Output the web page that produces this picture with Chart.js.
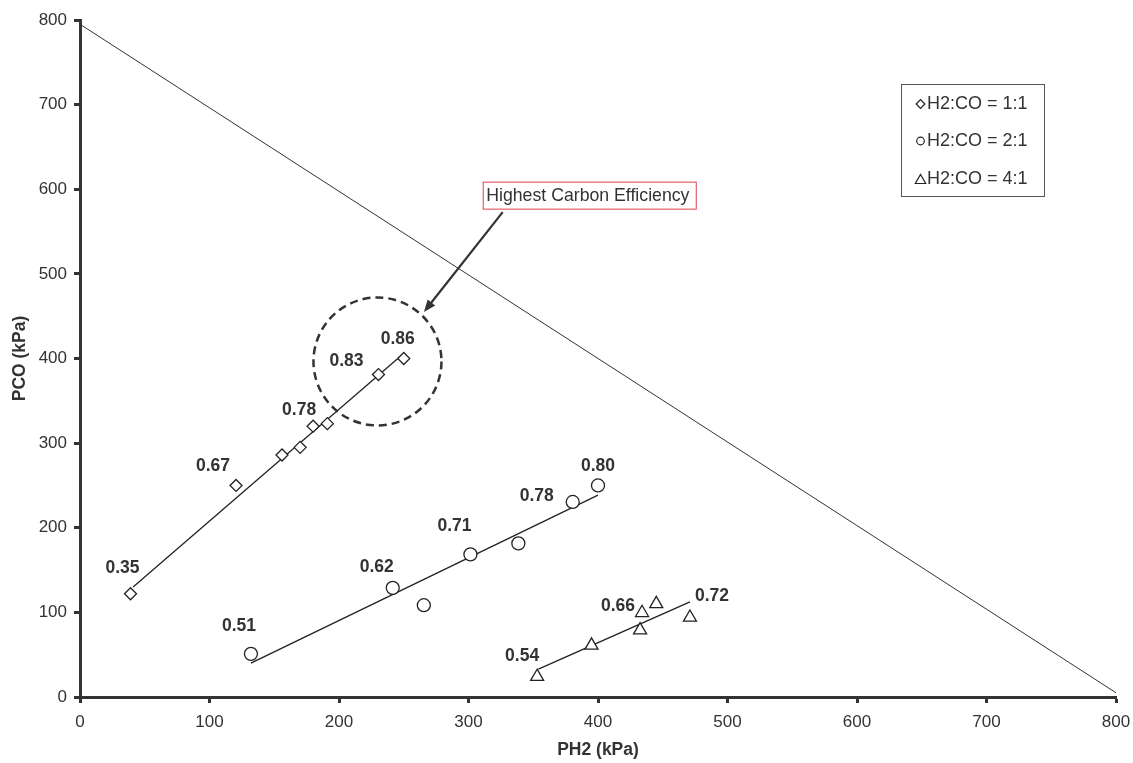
<!DOCTYPE html>
<html>
<head>
<meta charset="utf-8">
<script src="https://cdn.jsdelivr.net/npm/chart.js@4.4.0/dist/chart.umd.min.js"></script>
<style>
  html, body { margin: 0; padding: 0; background: #fff; }
  #wrap { width: 1133px; height: 763px; }
</style>
</head>
<body>
<div id="wrap"><canvas id="chart" width="1133" height="763"></canvas></div>
<script>
// H2:CO = 1:1 (diamonds)
const ratio11X = [39, 120.5, 156, 170, 180, 191, 230.5, 250];
const ratio11Y = [122, 250, 286, 295, 320, 323, 381, 400];
const ratio11Text = ['0.35', '0.67', null, null, '0.78', null, '0.83', '0.86'];

// H2:CO = 2:1 (circles)
const ratio21X = [132, 241.5, 265.5, 301.5, 338.5, 380.5, 400];
const ratio21Y = [51, 129, 108.5, 168.5, 181.5, 230.5, 250];
const ratio21Text = ['0.51', '0.62', null, '0.71', null, '0.78', '0.80'];

// H2:CO = 4:1 (triangles)
const ratio41X = [353, 395, 432.5, 434, 445, 471];
const ratio41Y = [24, 61, 79, 99.5, 110, 94];
const ratio41Text = ['0.54', null, null, '0.66', null, '0.72'];

// trend lines (end points)
const trend11X = [41, 247];
const trend11Y = [130, 402];
const trend21X = [132, 400];
const trend21Y = [40, 238.5];
const trend41X = [354, 471];
const trend41Y = [33, 112.5];

// total pressure boundary
const boundX = [0, 800];
const boundY = [795, 5];

const xTicks = [0, 100, 200, 300, 400, 500, 600, 700, 800];
const yTicks = [0, 100, 200, 300, 400, 500, 600, 700, 800];

const FONT = "'Liberation Sans', Arial, sans-serif";
const TEXT = '#333';
const AXIS = '#333';
const MARK = '#222';

// label offsets in px from the point, same order as the points
const offsets11 = [[-8, -26], [-23, -19], null, null, [-14, -16], null, [-32, -13], [-6, -19]];
const offsets21 = [[-12, -28], [-16, -21], null, [-16, -28], null, [-36, -6], [0, -19]];
const offsets41 = [[-15, -21], null, null, [-24, -7], null, [22, -21]];

function toPoints(xs, ys) {
    return xs.map((x, i) => ({ x: x, y: ys[i] }));
}

const markerStyle = {
    showLine: false,
    pointBackgroundColor: '#fff',
    pointBorderColor: MARK,
    pointBorderWidth: 1.3,
    order: 0
};

const lineStyle = {
    showLine: true,
    pointRadius: 0,
    borderColor: MARK,
    borderWidth: 1.3,
    fill: false,
    order: 1
};

// data labels next to the markers
const pointLabels = {
    id: 'pointLabels',
    afterDatasetsDraw(chart) {
        const ctx = chart.ctx;
        ctx.save();
        ctx.font = 'bold 17.5px ' + FONT;
        ctx.fillStyle = TEXT;
        ctx.textAlign = 'center';
        ctx.textBaseline = 'middle';
        chart.data.datasets.forEach((ds, i) => {
            if (!ds.pointTexts) return;
            const meta = chart.getDatasetMeta(i);
            meta.data.forEach((pt, j) => {
                const t = ds.pointTexts[j];
                if (!t) return;
                const off = ds.textOffsets[j];
                ctx.fillText(t, pt.x + off[0], pt.y + off[1]);
            });
        });
        ctx.restore();
    }
};

// dashed circle, callout box and arrow
const callout = {
    id: 'callout',
    afterDatasetsDraw(chart) {
        const ctx = chart.ctx;
        const xs = chart.scales.x, ys = chart.scales.y;
        ctx.save();

        // dashed circle round the best points
        ctx.beginPath();
        ctx.setLineDash([8, 5]);
        ctx.lineWidth = 2.5;
        ctx.strokeStyle = AXIS;
        ctx.arc(xs.getPixelForValue(229.7), ys.getPixelForValue(396.5), 64, 0, Math.PI * 2);
        ctx.stroke();
        ctx.setLineDash([]);

        // arrow
        const x1 = xs.getPixelForValue(326.4), y1 = ys.getPixelForValue(573);
        const x2 = xs.getPixelForValue(265.6), y2 = ys.getPixelForValue(455);
        const ang = Math.atan2(y2 - y1, x2 - x1);
        const head = 13;
        ctx.lineWidth = 2.2;
        ctx.beginPath();
        ctx.moveTo(x1, y1);
        ctx.lineTo(x2 - Math.cos(ang) * head * 0.8, y2 - Math.sin(ang) * head * 0.8);
        ctx.stroke();
        ctx.fillStyle = AXIS;
        ctx.beginPath();
        ctx.moveTo(x2, y2);
        ctx.lineTo(x2 - head * Math.cos(ang - 0.38), y2 - head * Math.sin(ang - 0.38));
        ctx.lineTo(x2 - head * Math.cos(ang + 0.38), y2 - head * Math.sin(ang + 0.38));
        ctx.closePath();
        ctx.fill();

        // text box
        const bx = xs.getPixelForValue(311), by = ys.getPixelForValue(609);
        ctx.fillStyle = '#fff';
        ctx.fillRect(bx, by, 213, 27);
        ctx.strokeStyle = '#e0404a';
        ctx.lineWidth = 1;
        ctx.strokeRect(bx + 0.5, by + 0.5, 213, 27);
        ctx.fillStyle = TEXT;
        ctx.font = '17.7px ' + FONT;
        ctx.textAlign = 'left';
        ctx.textBaseline = 'middle';
        ctx.fillText('Highest Carbon Efficiency', bx + 3.5, by + 14);
        ctx.restore();
    }
};

// boxed legend in the upper right
const boxLegend = {
    id: 'boxLegend',
    afterDraw(chart) {
        const ctx = chart.ctx;
        ctx.save();
        ctx.fillStyle = '#fff';
        ctx.fillRect(901, 84, 143, 112);
        ctx.strokeStyle = '#555';
        ctx.lineWidth = 1;
        ctx.strokeRect(901.5, 84.5, 143, 112);
        const rows = [
            { text: 'H2:CO = 1:1', style: 'rectRot', r: 4.3, y: 104 },
            { text: 'H2:CO = 2:1', style: 'circle', r: 3.8, y: 141 },
            { text: 'H2:CO = 4:1', style: 'triangle', r: 6, y: 179 }
        ];
        ctx.font = '18px ' + FONT;
        ctx.textAlign = 'left';
        ctx.textBaseline = 'middle';
        rows.forEach(row => {
            ctx.fillStyle = '#fff';
            ctx.strokeStyle = MARK;
            ctx.lineWidth = 1.2;
            const cy = row.style === 'triangle' ? row.y + 1.5 : row.y;
            Chart.helpers.drawPoint(ctx, { pointStyle: row.style, radius: row.r, borderWidth: 1.2, rotation: 0 }, 920.5, cy);
            ctx.fillStyle = TEXT;
            ctx.fillText(row.text, 927, row.y);
        });
        ctx.restore();
    }
};

const ctx = document.getElementById('chart').getContext('2d');
Chart.defaults.font.family = FONT;
Chart.defaults.font.size = 17;
Chart.defaults.color = TEXT;

new Chart(ctx, {
    type: 'scatter',
    data: {
        datasets: [
            Object.assign({ label: 'H2:CO = 1:1', data: toPoints(ratio11X, ratio11Y), pointStyle: 'rectRot', pointRadius: 6,
                pointTexts: ratio11Text, textOffsets: offsets11 }, markerStyle),
            Object.assign({ label: 'H2:CO = 2:1', data: toPoints(ratio21X, ratio21Y), pointStyle: 'circle', pointRadius: 6.5,
                pointTexts: ratio21Text, textOffsets: offsets21 }, markerStyle),
            Object.assign({ label: 'H2:CO = 4:1', data: toPoints(ratio41X, ratio41Y), pointStyle: 'triangle', pointRadius: 7.5,
                pointTexts: ratio41Text, textOffsets: offsets41 }, markerStyle),
            Object.assign({ label: 'trend 1:1', data: toPoints(trend11X, trend11Y) }, lineStyle),
            Object.assign({ label: 'trend 2:1', data: toPoints(trend21X, trend21Y) }, lineStyle),
            Object.assign({ label: 'trend 4:1', data: toPoints(trend41X, trend41Y) }, lineStyle),
            Object.assign({ label: 'boundary', data: toPoints(boundX, boundY) }, lineStyle, { borderWidth: 1, borderColor: AXIS })
        ]
    },
    options: {
        responsive: false,
        animation: false,
        devicePixelRatio: 1,
        events: [],
        layout: { padding: { top: 20, right: 17, left: 0, bottom: 0 } },
        plugins: {
            legend: { display: false },
            tooltip: { enabled: false }
        },
        scales: {
            x: {
                type: 'linear',
                min: 0,
                max: 800,
                afterBuildTicks(s) { s.ticks = xTicks.map(v => ({ value: v })); },
                afterFit(s) { s.height = 66; s.paddingLeft = 0; s.paddingRight = 0; },
                ticks: { padding: 9, color: TEXT, font: { size: 17 } },
                grid: { drawOnChartArea: false, drawTicks: true, tickLength: 6, tickColor: AXIS, tickWidth: 3 },
                border: { color: AXIS, width: 3 },
                title: { display: true, text: 'PH2 (kPa)', color: TEXT, font: { size: 17.5, weight: 'bold' }, padding: { top: 0, bottom: 2 } }
            },
            y: {
                type: 'linear',
                min: 0,
                max: 800,
                afterBuildTicks(s) { s.ticks = yTicks.map(v => ({ value: v })); },
                afterFit(s) { s.width = 80; s.paddingTop = 0; s.paddingBottom = 0; },
                ticks: { padding: 7, color: TEXT, font: { size: 17 } },
                grid: { drawOnChartArea: false, drawTicks: true, tickLength: 6, tickColor: AXIS, tickWidth: 3 },
                border: { color: AXIS, width: 3 },
                title: { display: true, text: 'PCO (kPa)', color: TEXT, font: { size: 17.5, weight: 'bold' }, padding: { top: 10, bottom: 0 } }
            }
        }
    },
    plugins: [pointLabels, callout, boxLegend]
});
</script>
